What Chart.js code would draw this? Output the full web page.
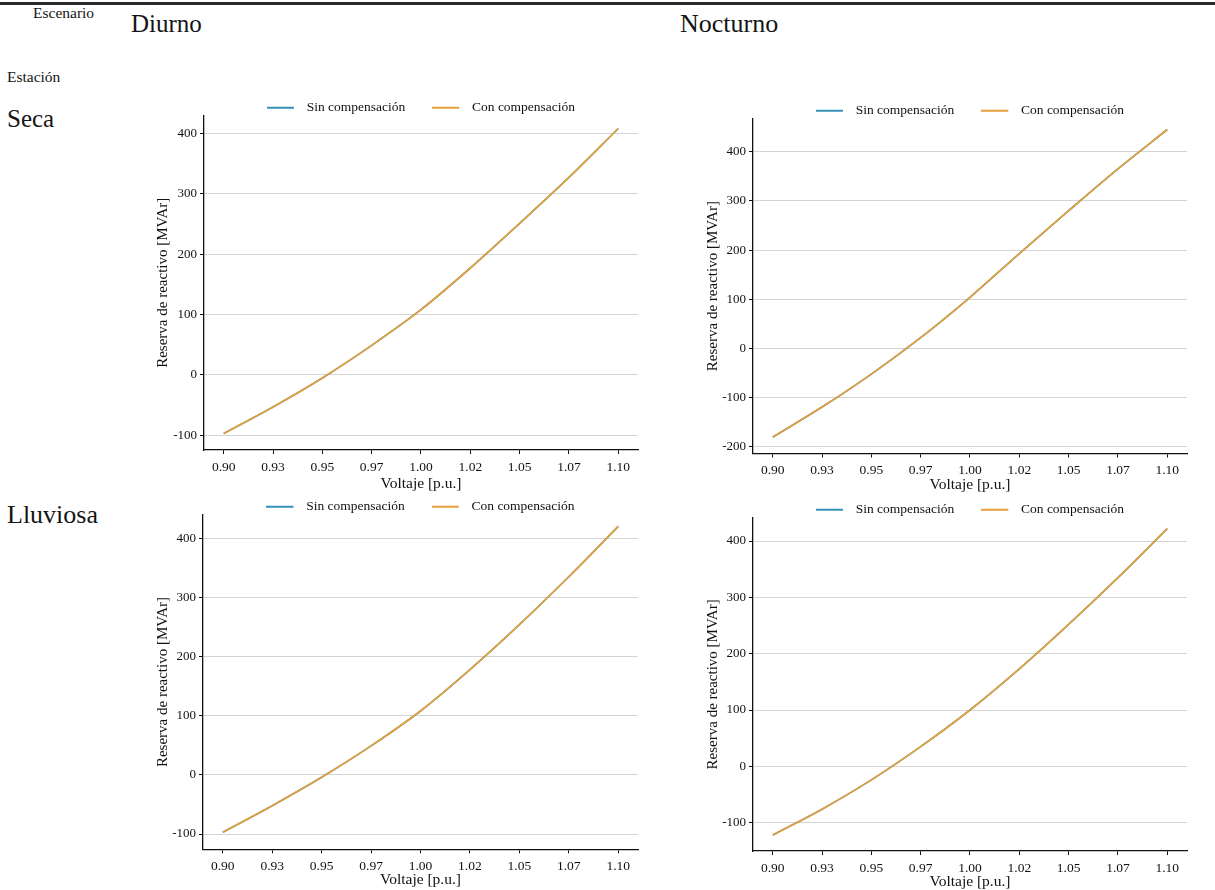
<!DOCTYPE html>
<html><head><meta charset="utf-8">
<script src="https://cdn.jsdelivr.net/npm/chart.js@4.4.0/dist/chart.umd.min.js"></script>
<style>
html,body{margin:0;padding:0;background:#fff;width:1215px;height:890px;overflow:hidden;position:relative;font-family:"Liberation Serif",serif;color:#151515;}
.lbl{position:absolute;line-height:1;white-space:nowrap;}
.topline{position:absolute;left:0;top:2px;width:1215px;height:2.5px;background:#2a2a2a;}
canvas{position:absolute;}
</style></head><body>
<div class="topline"></div>
<div class="lbl" style="left:33px;top:5px;font-size:15.5px">Escenario</div>
<div class="lbl" style="left:131px;top:11px;font-size:25px">Diurno</div>
<div class="lbl" style="left:680px;top:11px;font-size:26px">Nocturno</div>
<div class="lbl" style="left:7px;top:69px;font-size:15.5px">Estación</div>
<div class="lbl" style="left:7px;top:106px;font-size:25px">Seca</div>
<div class="lbl" style="left:7px;top:502px;font-size:26px">Lluviosa</div>
<canvas id="c1" width="500" height="420" style="left:150px;top:74px"></canvas>
<canvas id="c2" width="500" height="420" style="left:700px;top:77px"></canvas>
<canvas id="c3" width="500" height="419" style="left:150px;top:473px"></canvas>
<canvas id="c4" width="500" height="417" style="left:700px;top:476px"></canvas>
<script>
// ---- data ----
const voltage = [0.900, 0.925, 0.950, 0.975, 1.000, 1.025, 1.050, 1.075, 1.100];
const xTickValues = [0.900, 0.925, 0.950, 0.975, 1.000, 1.025, 1.050, 1.075, 1.100];
const xTickLabels = ['0.90', '0.93', '0.95', '0.97', '1.00', '1.02', '1.05', '1.07', '1.10'];
const yTicksShort = [-100, 0, 100, 200, 300, 400];
const yTicksLong = [-200, -100, 0, 100, 200, 300, 400];
const seriesNames = ['Sin compensación', 'Con compensación'];
const xTitle = 'Voltaje [p.u.]';
const yTitle = 'Reserva de reactivo [MVAr]';

const diurnoSecaSin       = [-97, -53, -5, 49, 108, 177, 251, 327, 408];
const diurnoSecaCon       = [-97, -53, -5, 49, 108, 177, 251, 327, 408];
const nocturnoSecaSin     = [-180, -119, -52, 22, 104, 193, 280, 365, 445];
const nocturnoSecaCon     = [-180, -119, -52, 22, 104, 193, 280, 365, 445];
const diurnoLluviosaSin   = [-97, -52, -4, 49, 108, 178, 254, 335, 420];
const diurnoLluviosaCon   = [-97, -52, -4, 49, 108, 178, 254, 335, 420];
const nocturnoLluviosaSin = [-122, -76, -24, 35, 100, 173, 252, 335, 422];
const nocturnoLluviosaCon = [-122, -76, -24, 35, 100, 173, 252, 335, 422];

// ---- styling ----
const colSin = '#3490b4';
const colCon = '#e8a03a';
const INK = '#111111';
const FONT = '"Liberation Serif", serif';

function legendLine(color) {
  const c = document.createElement('canvas');
  c.width = 33; c.height = 4;
  const g = c.getContext('2d');
  g.strokeStyle = color; g.lineWidth = 2;
  g.beginPath(); g.moveTo(0, 2); g.lineTo(27, 2); g.stroke();
  return c;
}

function makeChart(id, sin, con, yTicks, yMin, yMax, geo) {
  const toPts = arr => voltage.map((v, i) => ({x: v, y: arr[i]}));
  new Chart(document.getElementById(id), {
    type: 'line',
    data: {
      datasets: [
        {label: seriesNames[0], data: toPts(sin), borderColor: colSin, backgroundColor: colSin,
         borderWidth: 1.7, pointRadius: 0, pointHoverRadius: 0, pointStyle: legendLine(colSin),
         cubicInterpolationMode: 'monotone', order: 1},
        {label: seriesNames[1], data: toPts(con), borderColor: colCon, backgroundColor: colCon,
         borderWidth: 1.7, pointRadius: 0, pointHoverRadius: 0, pointStyle: legendLine(colCon),
         cubicInterpolationMode: 'monotone', order: 0}
      ]
    },
    options: {
      responsive: false, animation: false, devicePixelRatio: 1,
      layout: {padding: {left: 0, right: geo.padRight, top: 0, bottom: 0}},
      plugins: {
        tooltip: {enabled: false},
        legend: {
          position: 'top', fullSize: false, maxHeight: geo.legendH,
          labels: {
            usePointStyle: true, pointStyleWidth: 33, padding: 27,
            color: INK, font: {family: FONT, size: 13.5},
            sort: (a, b) => a.datasetIndex - b.datasetIndex
          }
        }
      },
      scales: {
        x: {
          type: 'linear', min: 0.89, max: 1.11,
          afterBuildTicks: s => { s.ticks = xTickValues.map(v => ({value: v})); },
          afterFit: s => { s.height = geo.xH; },
          ticks: {callback: (v, i) => xTickLabels[i], color: INK, padding: 5,
                  maxRotation: 0, autoSkip: false, font: {family: FONT, size: 13.5}},
          grid: {drawOnChartArea: false, drawTicks: true, tickLength: 4, tickColor: INK},
          border: {display: true, color: INK, width: 1.3},
          title: {display: true, text: xTitle, color: INK, font: {family: FONT, size: 15.5},
                  padding: {top: 0, bottom: geo.titlePad}}
        },
        y: {
          type: 'linear', min: yMin, max: yMax,
          afterBuildTicks: s => { s.ticks = yTicks.map(v => ({value: v})); },
          afterFit: s => { s.width = geo.yW; },
          ticks: {callback: v => String(v), color: INK, padding: 3,
                  font: {family: FONT, size: 13}},
          grid: {color: '#d4d4d4', lineWidth: 1, drawTicks: true, tickLength: 4, tickColor: INK},
          border: {display: true, color: INK, width: 1.3},
          title: {display: true, text: yTitle, color: INK, font: {family: FONT, size: 15},
                  padding: {top: 4, bottom: 0}}
        }
      }
    }
  });
}

makeChart('c1', diurnoSecaSin, diurnoSecaCon, yTicksShort, -124.3, 429.5,
          {padRight: 12, legendH: 41.5, xH: 44, yW: 54, titlePad: 1});
makeChart('c2', nocturnoSecaSin, nocturnoSecaCon, yTicksLong, -213.4, 467,
          {padRight: 13, legendH: 41.7, xH: 43.5, yW: 53, titlePad: 3});
makeChart('c3', diurnoLluviosaSin, diurnoLluviosaCon, yTicksShort, -125.8, 439.8,
          {padRight: 12, legendH: 41.75, xH: 42.7, yW: 53, titlePad: 3});
makeChart('c4', nocturnoLluviosaSin, nocturnoLluviosaCon, yTicksShort, -150.3, 441.3,
          {padRight: 13, legendH: 41.75, xH: 42, yW: 53, titlePad: 2});
</script>
</body></html>
